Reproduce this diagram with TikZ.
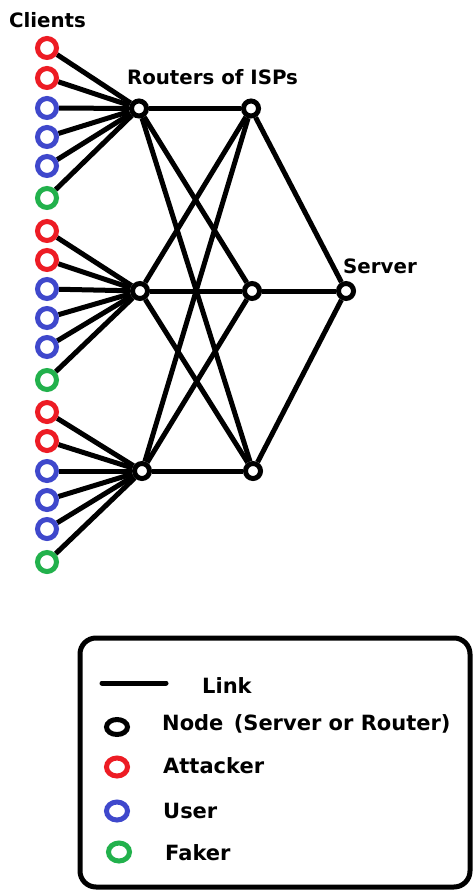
\documentclass[tikz,border=0pt]{standalone}
\usepackage{fontspec}
\setmainfont{DejaVu Sans}
\usetikzlibrary{backgrounds,shapes.geometric}
\definecolor{pred}{RGB}{237,28,36}
\definecolor{pblue}{RGB}{63,72,204}
\definecolor{pgreen}{RGB}{34,177,76}
\begin{document}
\begin{tikzpicture}[x=1pt,y=-1pt,
  client/.style={circle,draw=#1,line width=5pt,minimum size=19pt,inner sep=0pt,fill=white},
  router/.style={circle,draw=black,line width=5pt,minimum size=15pt,inner sep=0pt,fill=white},
  legdot/.style={ellipse,draw=#1,line width=5pt,minimum width=21pt,minimum height=18pt,inner sep=0pt,fill=white},
  link/.style={line width=5pt,black},
  lbl/.style={font=\bfseries\fontsize{19.8}{21}\selectfont,inner sep=0pt,anchor=base},
  leg/.style={font=\bfseries\fontsize{21}{23}\selectfont,inner sep=0pt,anchor=base west}]
\useasboundingbox (0,0) rectangle (472,890);

% routers and server
\node[router] (A1) at (139,108.5) {};
\node[router] (A2) at (140,291) {};
\node[router] (A3) at (142,471) {};
\node[router] (B1) at (251,108.5) {};
\node[router] (B2) at (252,291) {};
\node[router] (B3) at (253,471) {};
\node[router] (S) at (346,291) {};

% clients
\foreach \g/\ys in {1/{48,78,108,137,166,198},2/{231,260,289,318,347,380},3/{412,441,471,500,529,562}}{
  \foreach \y [count=\i] in \ys {
    \ifnum\i<3 \def\c{pred}\else\ifnum\i<6 \def\c{pblue}\else\def\c{pgreen}\fi\fi
    \node[client=\c] (C\g-\i) at (47,\y) {};
  }
}

\begin{scope}[on background layer]
  \fill[white] (0,0) rectangle (472,890);
  \foreach \g in {1,2,3}{
    \foreach \i in {1,...,6}{
      \draw[link] (C\g-\i) -- (A\g);
    }
  }
  \foreach \a in {1,2,3}{
    \foreach \b in {1,2,3}{
      \draw[link] (A\a) -- (B\b);
    }
    \draw[link] (B\a) -- (S);
  }
\end{scope}

% labels
\node[lbl] (tclients) at (47.5,28) {Clients};
\node[lbl] (trouters) at (212.5,85) {Routers of ISPs};
\node[lbl] (tserver) at (380,273) {Server};

% legend
\draw[line width=5pt,rounded corners=16pt] (80,638) rectangle (470,887);
\coordinate (l1) at (102,683);
\coordinate (l2) at (166,683);
\draw[link,line cap=round] (l1) -- (l2);
\node[leg] (tlink) at (202,693) {Link};
\node[legdot=black,minimum height=15pt] (dnode) at (117,727) {};
\node[leg] (tnode) at (162,730) {Node\hspace{3pt} (Server or Router)};
\node[legdot=pred] (datt) at (117,767) {};
\node[leg] (tatt) at (163,773) {Attacker};
\node[legdot=pblue] (duser) at (117,811) {};
\node[leg] (tuser) at (163,818) {User};
\node[legdot=pgreen] (dfake) at (119,852) {};
\node[leg] (tfake) at (165,860) {Faker};
\end{tikzpicture}
\end{document}
